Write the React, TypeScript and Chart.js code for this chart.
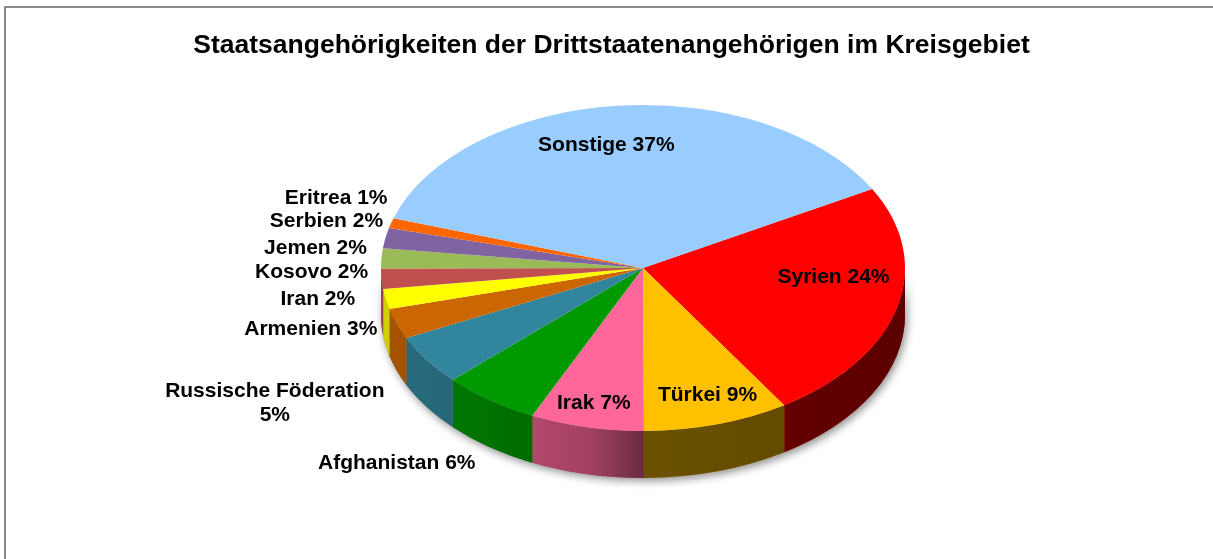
import React, { useEffect, useRef } from 'react';
import { Chart, registerables } from 'chart.js';

Chart.register(...registerables);

// ---------- data ----------
const categories = [
  'Syrien',
  'Türkei',
  'Irak',
  'Afghanistan',
  'Russische Föderation',
  'Armenien',
  'Iran',
  'Kosovo',
  'Jemen',
  'Serbien',
  'Eritrea',
  'Sonstige',
];
const shares = [24, 9, 7, 6, 5, 3, 2, 2, 2, 2, 1, 37];
const titleText = 'Staatsangehörigkeiten der Drittstaatenangehörigen im Kreisgebiet';

// ---------- styles ----------
const sliceColors = [
  '#FF0000',
  '#FFC000',
  '#FF6699',
  '#009900',
  '#31859C',
  '#CC6600',
  '#FFFF00',
  '#C0504D',
  '#9BBB59',
  '#8064A2',
  '#FF6600',
  '#99CCFF',
];

// label placement: k = radial factor on the ellipse, dx/dy = nudges, split = two lines
const labelPlacement: { k: number; dx: number; dy: number; split?: boolean }[] = [
  { k: 0.75, dx: 0, dy: -23 },
  { k: 0.75, dx: 9, dy: 8 },
  { k: 0.75, dx: -7, dy: 14 },
  { k: 1, dx: -93, dy: 61 },
  { k: 1, dx: -152, dy: 41, split: true },
  { k: 1, dx: -86, dy: 4 },
  { k: 1, dx: -68, dy: -2 },
  { k: 1, dx: -70, dy: -8 },
  { k: 1, dx: -66, dy: -12 },
  { k: 1, dx: -59, dy: -19 },
  { k: 1, dx: -55, dy: -27 },
  { k: 0.77, dx: -17, dy: 0 },
];

// 3D projection geometry
const GEO = { cx: 643, cy: 268, rx: 262, ry: 163, depth: 47 };
const FONT = "'Liberation Sans', Arial, sans-serif";

function sideSpans(a0: number, a1: number): [number, number][] {
  const spans: [number, number][] = [];
  for (let k = -2; k <= 2; k++) {
    const lo = Math.max(a0, k * 2 * Math.PI);
    const hi = Math.min(a1, k * 2 * Math.PI + Math.PI);
    if (hi > lo) spans.push([lo, hi]);
  }
  return spans;
}

const pie3d = {
  id: 'pie3d',
  beforeDatasetsDraw(chart: any) {
    const ctx: CanvasRenderingContext2D = chart.ctx;
    const meta = chart.getDatasetMeta(0);
    const first = meta.data[0];
    if (!first) return;
    const { x, y, outerRadius } = first.getProps(['x', 'y', 'outerRadius'], true);
    const { cx, cy, rx, ry, depth } = GEO;

    // shadow under the body
    ctx.save();
    ctx.shadowColor = 'rgba(0,0,0,0.45)';
    ctx.shadowBlur = 9;
    ctx.shadowOffsetX = 2;
    ctx.shadowOffsetY = 3;
    ctx.fillStyle = '#777';
    ctx.beginPath();
    ctx.ellipse(cx, cy, rx, ry, 0, 0, Math.PI);
    ctx.ellipse(cx, cy + depth, rx, ry, 0, Math.PI, 0, true);
    ctx.closePath();
    ctx.fill();
    ctx.restore();

    // side walls
    meta.data.forEach((arc: any, i: number) => {
      const { startAngle, endAngle } = arc.getProps(['startAngle', 'endAngle'], true);
      sideSpans(startAngle, endAngle).forEach(([t0, t1]) => {
        ctx.save();
        ctx.beginPath();
        ctx.ellipse(cx, cy, rx, ry, 0, t0, t1);
        ctx.ellipse(cx, cy + depth, rx, ry, 0, t1, t0, true);
        ctx.closePath();
        ctx.fillStyle = sliceColors[i];
        ctx.fill();
        const g = ctx.createLinearGradient(cx - rx, 0, cx + rx, 0);
        g.addColorStop(0, 'rgba(0,0,0,0.18)');
        g.addColorStop(0.2, 'rgba(0,0,0,0.25)');
        g.addColorStop(0.4, 'rgba(0,0,0,0.36)');
        g.addColorStop(0.5, 'rgba(0,0,0,0.58)');
        g.addColorStop(1, 'rgba(0,0,0,0.64)');
        ctx.fillStyle = g;
        ctx.fill();
        ctx.restore();
      });
    });

    // squash the library's pie into the ellipse of the top face
    ctx.save();
    ctx.translate(cx, cy);
    ctx.scale(rx / outerRadius, ry / outerRadius);
    ctx.translate(-x, -y);
  },
  afterDatasetsDraw(chart: any) {
    const ctx: CanvasRenderingContext2D = chart.ctx;
    ctx.restore();
    const meta = chart.getDatasetMeta(0);
    const { cx, cy, rx, ry } = GEO;
    const size = 21;
    ctx.save();
    ctx.font = `bold ${size}px ${FONT}`;
    ctx.fillStyle = '#000';
    ctx.textAlign = 'center';
    ctx.textBaseline = 'alphabetic';
    meta.data.forEach((arc: any, i: number) => {
      const { startAngle, endAngle } = arc.getProps(['startAngle', 'endAngle'], true);
      const m = (startAngle + endAngle) / 2;
      const p = labelPlacement[i];
      const lx = cx + p.k * rx * Math.cos(m) + p.dx;
      const ly = cy + p.k * ry * Math.sin(m) + p.dy;
      const pct = `${shares[i]}%`;
      const lines = p.split ? [categories[i], pct] : [`${categories[i]} ${pct}`];
      const lh = 24;
      lines.forEach((t, j) => {
        const yy = ly - ((lines.length - 1) * lh) / 2 + j * lh + size * 0.358;
        ctx.fillText(t, lx, yy);
      });
    });
    ctx.restore();
  },
};

export default function App() {
  const ref = useRef<HTMLCanvasElement | null>(null);

  useEffect(() => {
    if (!ref.current) return;
    const chart = new Chart(ref.current, {
      type: 'pie',
      data: {
        labels: categories,
        datasets: [
          {
            data: shares,
            backgroundColor: sliceColors,
            borderWidth: 0,
            hoverOffset: 0,
          },
        ],
      },
      options: {
        animation: false,
        responsive: true,
        maintainAspectRatio: false,
        events: [],
        rotation: 61,
        layout: { padding: { left: 10, right: 0, top: 0, bottom: 0 } },
        plugins: {
          legend: { display: false },
          tooltip: { enabled: false },
          title: {
            display: true,
            text: titleText,
            color: '#000',
            font: { family: FONT, size: 26.5, weight: 'bold', lineHeight: 1.2 },
            padding: { top: 30, bottom: 10 },
          },
        },
      },
      plugins: [pie3d],
    });
    return () => chart.destroy();
  }, []);

  return (
    <div
      style={{
        position: 'fixed',
        left: 0,
        top: 0,
        width: 1213,
        height: 559,
        background: '#fff',
        overflow: 'hidden',
      }}
    >
      <div
        style={{
          position: 'absolute',
          left: 4,
          top: 6,
          width: 1400,
          height: 800,
          border: '2px solid #8a8a8a',
          boxSizing: 'border-box',
        }}
      />
      <div style={{ position: 'absolute', left: 0, top: 0, width: 1213, height: 559 }}>
        <canvas ref={ref} />
      </div>
    </div>
  );
}
